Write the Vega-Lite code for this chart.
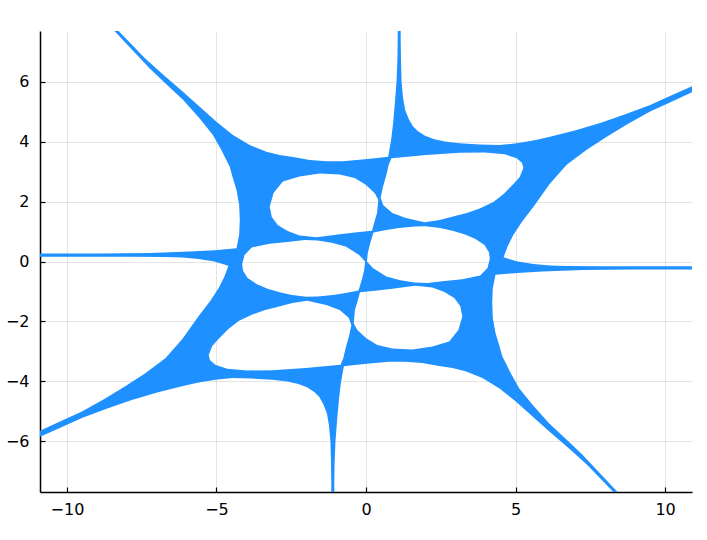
{
"$schema": "https://vega.github.io/schema/vega-lite/v6.json",
"width": 652, "height": 461,
"autosize": {"type": "none"},
"padding": {"left": 40, "top": 31, "right": 15, "bottom": 48},
"background": "white",
"config": {"view": {"stroke": null}},
"data": {"values": [
{"i":1,"x":-11.92,"y":0.27},{"i":2,"x":-8.91,"y":0.27},{"i":3,"x":-7.23,"y":0.28},{"i":4,"x":-5.90,"y":0.33},{"i":5,"x":-5.06,"y":0.38},{"i":6,"x":-4.33,"y":0.44},{"i":7,"x":-4.24,"y":0.89},{"i":8,"x":-4.22,"y":1.39},{"i":9,"x":-4.24,"y":1.89},{"i":10,"x":-4.33,"y":2.39},
{"i":11,"x":-4.45,"y":2.78},{"i":12,"x":-4.56,"y":3.17},{"i":13,"x":-4.70,"y":3.45},{"i":14,"x":-4.84,"y":3.73},{"i":15,"x":-5.12,"y":4.23},{"i":16,"x":-5.56,"y":4.78},{"i":17,"x":-6.12,"y":5.40},{"i":18,"x":-6.65,"y":5.90},{"i":19,"x":-7.23,"y":6.45},{"i":20,"x":-8.44,"y":7.73},
{"i":21,"x":-8.74,"y":8.07},{"i":22,"x":-8.61,"y":8.07},{"i":23,"x":-8.30,"y":7.73},{"i":24,"x":-7.39,"y":6.79},{"i":25,"x":-6.77,"y":6.23},{"i":26,"x":-6.12,"y":5.67},{"i":27,"x":-5.56,"y":5.17},{"i":28,"x":-5.00,"y":4.67},{"i":29,"x":-4.45,"y":4.23},{"i":30,"x":-3.89,"y":3.89},
{"i":31,"x":-3.33,"y":3.67},{"i":32,"x":-2.89,"y":3.56},{"i":33,"x":-2.44,"y":3.49},{"i":34,"x":-1.88,"y":3.39},{"i":35,"x":-1.32,"y":3.35},{"i":36,"x":-0.78,"y":3.35},{"i":37,"x":-0.21,"y":3.40},{"i":38,"x":0.29,"y":3.45},{"i":39,"x":0.74,"y":3.50},{"i":40,"x":0.84,"y":4.06},
{"i":41,"x":0.90,"y":4.56},{"i":42,"x":0.96,"y":5.23},{"i":43,"x":1.02,"y":6.00},{"i":44,"x":1.05,"y":6.73},{"i":45,"x":1.06,"y":7.40},{"i":46,"x":1.06,"y":8.07},{"i":47,"x":1.16,"y":8.07},{"i":48,"x":1.16,"y":7.40},{"i":49,"x":1.17,"y":6.73},{"i":50,"x":1.19,"y":6.00},
{"i":51,"x":1.24,"y":5.46},{"i":52,"x":1.31,"y":5.06},{"i":53,"x":1.43,"y":4.76},{"i":54,"x":1.56,"y":4.53},{"i":55,"x":1.73,"y":4.36},{"i":56,"x":1.96,"y":4.21},{"i":57,"x":2.26,"y":4.09},{"i":58,"x":2.63,"y":4.01},{"i":59,"x":3.13,"y":3.95},{"i":60,"x":3.80,"y":3.91},
{"i":61,"x":4.47,"y":3.89},{"i":62,"x":5.04,"y":3.95},{"i":63,"x":5.64,"y":4.05},{"i":64,"x":6.15,"y":4.17},{"i":65,"x":6.98,"y":4.38},{"i":66,"x":7.83,"y":4.63},{"i":67,"x":8.65,"y":4.91},{"i":68,"x":9.50,"y":5.23},{"i":69,"x":10.22,"y":5.55},{"i":70,"x":10.93,"y":5.87},
{"i":71,"x":11.66,"y":6.21},{"i":72,"x":11.66,"y":6.03},{"i":73,"x":10.93,"y":5.67},{"i":74,"x":10.16,"y":5.31},{"i":75,"x":9.50,"y":5.01},{"i":76,"x":8.75,"y":4.59},{"i":77,"x":8.05,"y":4.17},{"i":78,"x":7.38,"y":3.73},{"i":79,"x":6.71,"y":3.23},{"i":80,"x":6.14,"y":2.59},
{"i":81,"x":5.60,"y":1.83},{"i":82,"x":5.21,"y":1.32},{"i":83,"x":4.93,"y":0.89},{"i":84,"x":4.74,"y":0.52},{"i":85,"x":4.60,"y":0.14},{"i":86,"x":5.07,"y":0.00},{"i":87,"x":5.60,"y":-0.08},{"i":88,"x":6.14,"y":-0.13},{"i":89,"x":6.71,"y":-0.15},{"i":90,"x":7.82,"y":-0.16},
{"i":91,"x":11.92,"y":-0.16},
{"i":92,"x":11.92,"y":-0.27},{"i":93,"x":8.91,"y":-0.27},{"i":94,"x":7.23,"y":-0.28},{"i":95,"x":5.90,"y":-0.33},{"i":96,"x":5.06,"y":-0.38},{"i":97,"x":4.33,"y":-0.44},{"i":98,"x":4.24,"y":-0.89},{"i":99,"x":4.22,"y":-1.39},{"i":100,"x":4.24,"y":-1.89},
{"i":101,"x":4.33,"y":-2.39},{"i":102,"x":4.45,"y":-2.78},{"i":103,"x":4.56,"y":-3.17},{"i":104,"x":4.70,"y":-3.45},{"i":105,"x":4.84,"y":-3.73},{"i":106,"x":5.12,"y":-4.23},{"i":107,"x":5.56,"y":-4.78},{"i":108,"x":6.12,"y":-5.40},{"i":109,"x":6.65,"y":-5.90},{"i":110,"x":7.23,"y":-6.45},
{"i":111,"x":8.44,"y":-7.73},{"i":112,"x":8.74,"y":-8.07},{"i":113,"x":8.61,"y":-8.07},{"i":114,"x":8.30,"y":-7.73},{"i":115,"x":7.39,"y":-6.79},{"i":116,"x":6.77,"y":-6.23},{"i":117,"x":6.12,"y":-5.67},{"i":118,"x":5.56,"y":-5.17},{"i":119,"x":5.00,"y":-4.67},{"i":120,"x":4.45,"y":-4.23},
{"i":121,"x":3.89,"y":-3.89},{"i":122,"x":3.33,"y":-3.67},{"i":123,"x":2.89,"y":-3.56},{"i":124,"x":2.44,"y":-3.49},{"i":125,"x":1.88,"y":-3.39},{"i":126,"x":1.32,"y":-3.35},{"i":127,"x":0.78,"y":-3.35},{"i":128,"x":0.21,"y":-3.40},{"i":129,"x":-0.29,"y":-3.45},{"i":130,"x":-0.74,"y":-3.50},
{"i":131,"x":-0.84,"y":-4.06},{"i":132,"x":-0.90,"y":-4.56},{"i":133,"x":-0.96,"y":-5.23},{"i":134,"x":-1.02,"y":-6.00},{"i":135,"x":-1.05,"y":-6.73},{"i":136,"x":-1.06,"y":-7.40},{"i":137,"x":-1.06,"y":-8.07},{"i":138,"x":-1.16,"y":-8.07},{"i":139,"x":-1.16,"y":-7.40},{"i":140,"x":-1.17,"y":-6.73},
{"i":141,"x":-1.19,"y":-6.00},{"i":142,"x":-1.24,"y":-5.46},{"i":143,"x":-1.31,"y":-5.06},{"i":144,"x":-1.43,"y":-4.76},{"i":145,"x":-1.56,"y":-4.53},{"i":146,"x":-1.73,"y":-4.36},{"i":147,"x":-1.96,"y":-4.21},{"i":148,"x":-2.26,"y":-4.09},{"i":149,"x":-2.63,"y":-4.01},{"i":150,"x":-3.13,"y":-3.95},
{"i":151,"x":-3.80,"y":-3.91},{"i":152,"x":-4.47,"y":-3.89},{"i":153,"x":-5.04,"y":-3.95},{"i":154,"x":-5.64,"y":-4.05},{"i":155,"x":-6.15,"y":-4.17},{"i":156,"x":-6.98,"y":-4.38},{"i":157,"x":-7.83,"y":-4.63},{"i":158,"x":-8.65,"y":-4.91},{"i":159,"x":-9.50,"y":-5.23},{"i":160,"x":-10.22,"y":-5.55},
{"i":161,"x":-10.93,"y":-5.87},{"i":162,"x":-11.66,"y":-6.21},{"i":163,"x":-11.66,"y":-6.03},{"i":164,"x":-10.93,"y":-5.67},{"i":165,"x":-10.16,"y":-5.31},{"i":166,"x":-9.50,"y":-5.01},{"i":167,"x":-8.75,"y":-4.59},{"i":168,"x":-8.05,"y":-4.17},{"i":169,"x":-7.38,"y":-3.73},{"i":170,"x":-6.71,"y":-3.23},
{"i":171,"x":-6.14,"y":-2.59},{"i":172,"x":-5.60,"y":-1.83},{"i":173,"x":-5.21,"y":-1.32},{"i":174,"x":-4.93,"y":-0.89},{"i":175,"x":-4.74,"y":-0.52},{"i":176,"x":-4.60,"y":-0.14},{"i":177,"x":-5.07,"y":0.00},{"i":178,"x":-5.60,"y":0.08},{"i":179,"x":-6.14,"y":0.13},{"i":180,"x":-6.71,"y":0.15},
{"i":181,"x":-7.82,"y":0.16},{"i":182,"x":-11.92,"y":0.16},{"i":183,"x":-11.92,"y":0.27},
{"i":184,"x":0.41,"y":2.06},{"i":185,"x":0.29,"y":2.29},{"i":186,"x":-0.01,"y":2.56},{"i":187,"x":-0.38,"y":2.79},{"i":188,"x":-0.88,"y":2.91},{"i":189,"x":-1.55,"y":2.94},{"i":190,"x":-2.22,"y":2.84},{"i":191,"x":-2.78,"y":2.67},{"i":192,"x":-3.09,"y":2.29},{"i":193,"x":-3.22,"y":1.83},
{"i":194,"x":-3.15,"y":1.49},{"i":195,"x":-2.95,"y":1.22},{"i":196,"x":-2.62,"y":1.02},{"i":197,"x":-2.22,"y":0.87},{"i":198,"x":-1.66,"y":0.81},{"i":199,"x":-1.38,"y":0.84},{"i":200,"x":-0.88,"y":0.91},{"i":201,"x":-0.38,"y":0.97},{"i":202,"x":0.20,"y":1.03},{"i":203,"x":0.28,"y":1.32},
{"i":204,"x":0.37,"y":1.62},{"i":205,"x":0.41,"y":2.06},{"i":206,"x":-11.92,"y":0.27},
{"i":207,"x":5.26,"y":3.12},{"i":208,"x":5.22,"y":3.29},{"i":209,"x":5.04,"y":3.45},{"i":210,"x":4.64,"y":3.58},{"i":211,"x":3.97,"y":3.64},{"i":212,"x":3.13,"y":3.63},{"i":213,"x":2.02,"y":3.56},{"i":214,"x":0.85,"y":3.45},{"i":215,"x":0.76,"y":3.23},{"i":216,"x":0.68,"y":2.89},
{"i":217,"x":0.56,"y":2.46},{"i":218,"x":0.49,"y":2.12},{"i":219,"x":0.58,"y":1.88},{"i":220,"x":0.88,"y":1.62},{"i":221,"x":1.33,"y":1.45},{"i":222,"x":1.96,"y":1.31},{"i":223,"x":2.46,"y":1.39},{"i":224,"x":2.91,"y":1.50},{"i":225,"x":3.37,"y":1.62},{"i":226,"x":3.80,"y":1.77},
{"i":227,"x":4.26,"y":1.99},{"i":228,"x":4.61,"y":2.26},{"i":229,"x":4.93,"y":2.59},{"i":230,"x":5.14,"y":2.82},{"i":231,"x":5.26,"y":3.12},{"i":232,"x":-11.92,"y":0.27},
{"i":233,"x":-0.03,"y":0.00},{"i":234,"x":-0.23,"y":0.22},{"i":235,"x":-0.68,"y":0.50},{"i":236,"x":-1.15,"y":0.63},{"i":237,"x":-1.62,"y":0.70},{"i":238,"x":-2.05,"y":0.72},{"i":239,"x":-2.55,"y":0.66},{"i":240,"x":-3.22,"y":0.59},{"i":241,"x":-3.82,"y":0.47},{"i":242,"x":-4.06,"y":0.22},
{"i":243,"x":-4.14,"y":-0.08},{"i":244,"x":-4.11,"y":-0.31},{"i":245,"x":-3.96,"y":-0.55},{"i":246,"x":-3.66,"y":-0.75},{"i":247,"x":-3.29,"y":-0.91},{"i":248,"x":-2.89,"y":-1.03},{"i":249,"x":-2.48,"y":-1.12},{"i":250,"x":-1.99,"y":-1.18},{"i":251,"x":-1.62,"y":-1.17},{"i":252,"x":-1.10,"y":-1.12},
{"i":253,"x":-0.68,"y":-1.05},{"i":254,"x":-0.25,"y":-0.97},{"i":255,"x":-0.14,"y":-0.61},{"i":256,"x":-0.06,"y":-0.28},{"i":257,"x":-0.03,"y":0.00},{"i":258,"x":-11.92,"y":0.27},
{"i":259,"x":-0.41,"y":-2.06},{"i":260,"x":-0.29,"y":-2.29},{"i":261,"x":0.01,"y":-2.56},{"i":262,"x":0.38,"y":-2.79},{"i":263,"x":0.88,"y":-2.91},{"i":264,"x":1.55,"y":-2.94},{"i":265,"x":2.22,"y":-2.84},{"i":266,"x":2.78,"y":-2.67},{"i":267,"x":3.09,"y":-2.29},{"i":268,"x":3.22,"y":-1.83},
{"i":269,"x":3.15,"y":-1.49},{"i":270,"x":2.95,"y":-1.22},{"i":271,"x":2.62,"y":-1.02},{"i":272,"x":2.22,"y":-0.87},{"i":273,"x":1.66,"y":-0.81},{"i":274,"x":1.38,"y":-0.84},{"i":275,"x":0.88,"y":-0.91},{"i":276,"x":0.38,"y":-0.97},{"i":277,"x":-0.20,"y":-1.03},{"i":278,"x":-0.28,"y":-1.32},
{"i":279,"x":-0.37,"y":-1.62},{"i":280,"x":-0.41,"y":-2.06},{"i":281,"x":-11.92,"y":0.27},
{"i":282,"x":-5.26,"y":-3.12},{"i":283,"x":-5.22,"y":-3.29},{"i":284,"x":-5.04,"y":-3.45},{"i":285,"x":-4.64,"y":-3.58},{"i":286,"x":-3.97,"y":-3.64},{"i":287,"x":-3.13,"y":-3.63},{"i":288,"x":-2.02,"y":-3.56},{"i":289,"x":-0.85,"y":-3.45},{"i":290,"x":-0.76,"y":-3.23},{"i":291,"x":-0.68,"y":-2.89},
{"i":292,"x":-0.56,"y":-2.46},{"i":293,"x":-0.49,"y":-2.12},{"i":294,"x":-0.58,"y":-1.88},{"i":295,"x":-0.88,"y":-1.62},{"i":296,"x":-1.33,"y":-1.45},{"i":297,"x":-1.96,"y":-1.31},{"i":298,"x":-2.46,"y":-1.39},{"i":299,"x":-2.91,"y":-1.50},{"i":300,"x":-3.37,"y":-1.62},{"i":301,"x":-3.80,"y":-1.77},
{"i":302,"x":-4.26,"y":-1.99},{"i":303,"x":-4.61,"y":-2.26},{"i":304,"x":-4.93,"y":-2.59},{"i":305,"x":-5.14,"y":-2.82},{"i":306,"x":-5.26,"y":-3.12},{"i":307,"x":-11.92,"y":0.27},
{"i":308,"x":0.03,"y":0.00},{"i":309,"x":0.23,"y":-0.22},{"i":310,"x":0.68,"y":-0.50},{"i":311,"x":1.15,"y":-0.63},{"i":312,"x":1.62,"y":-0.70},{"i":313,"x":2.05,"y":-0.72},{"i":314,"x":2.55,"y":-0.66},{"i":315,"x":3.22,"y":-0.59},{"i":316,"x":3.82,"y":-0.47},{"i":317,"x":4.06,"y":-0.22},
{"i":318,"x":4.14,"y":0.08},{"i":319,"x":4.11,"y":0.31},{"i":320,"x":3.96,"y":0.55},{"i":321,"x":3.66,"y":0.75},{"i":322,"x":3.29,"y":0.91},{"i":323,"x":2.89,"y":1.03},{"i":324,"x":2.48,"y":1.12},{"i":325,"x":1.99,"y":1.18},{"i":326,"x":1.62,"y":1.17},{"i":327,"x":1.10,"y":1.12},
{"i":328,"x":0.68,"y":1.05},{"i":329,"x":0.25,"y":0.97},{"i":330,"x":0.14,"y":0.61},{"i":331,"x":0.06,"y":0.28},{"i":332,"x":0.03,"y":0.00},{"i":333,"x":-11.92,"y":0.27}
]},
"mark": {"type": "line", "fill": "#1E90FF", "stroke": "#1E90FF", "strokeWidth": 0, "strokeOpacity": 0, "clip": true, "interpolate": "linear"},
"encoding": {
 "x": {"field": "x", "type": "quantitative", "scale": {"domain": [-10.9, 10.9], "nice": false, "zero": false},
   "axis": {"values": [-10, -5, 0, 5, 10], "title": null, "domainColor": "black", "domainWidth": 1.5, "tickColor": "black", "tickSize": -5, "tickWidth": 1.2, "gridColor": "black", "gridOpacity": 0.1, "gridWidth": 1, "labelFont": "DejaVu Sans", "labelFontSize": 16, "labelColor": "black", "labelPadding": 14}},
 "y": {"field": "y", "type": "quantitative", "scale": {"domain": [-7.7, 7.7], "nice": false, "zero": false},
   "axis": {"values": [-6, -4, -2, 0, 2, 4, 6], "title": null, "domainColor": "black", "domainWidth": 1.5, "tickColor": "black", "tickSize": -5, "tickWidth": 1.2, "gridColor": "black", "gridOpacity": 0.1, "gridWidth": 1, "labelFont": "DejaVu Sans", "labelFontSize": 16, "labelColor": "black", "labelPadding": 16}},
 "order": {"field": "i", "type": "quantitative"}
}
}
